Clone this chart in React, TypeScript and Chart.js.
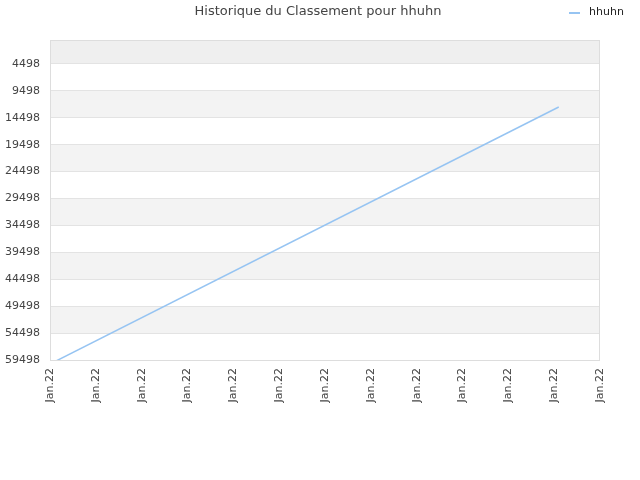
import React, { useEffect, useRef } from "react";
import { Chart, registerables } from "chart.js";

Chart.register(...registerables);

const chartTitle = "Historique du Classement pour hhuhn";
const seriesName = "hhuhn";
const xTickLabels = [
  "Jan.22", "Jan.22", "Jan.22", "Jan.22", "Jan.22", "Jan.22", "Jan.22",
  "Jan.22", "Jan.22", "Jan.22", "Jan.22", "Jan.22", "Jan.22",
];
const yTickValues = [4498, 9498, 14498, 19498, 24498, 29498, 34498, 39498, 44498, 49498, 54498, 59498];
const rankPositions = [0, 11.1];
const rankValues = [60250, 12490];

const FONT = "'DejaVu Sans', sans-serif";
const LINE_COLOR = "#96c4f2";

const bandsPlugin = {
  id: "bands",
  beforeDraw(chart: any) {
    const { ctx, chartArea } = chart;
    const y = chart.scales.y;
    ctx.save();
    ctx.fillStyle = "#ffffff";
    ctx.fillRect(0, 0, chart.width, chart.height);
    const edges = [y.min, ...yTickValues];
    for (let i = 0; i < edges.length - 1; i++) {
      if (i % 2 === 0) {
        const t = y.getPixelForValue(edges[i]);
        const b = y.getPixelForValue(edges[i + 1]);
        ctx.fillStyle = i === 0 ? "#efefef" : "#f3f3f3";
        ctx.fillRect(chartArea.left, t, chartArea.right - chartArea.left, b - t);
      }
    }
    ctx.restore();
  },
  afterDraw(chart: any) {
    const { ctx, chartArea } = chart;
    ctx.save();
    ctx.strokeStyle = "#dddddd";
    ctx.lineWidth = 1;
    ctx.strokeRect(chartArea.left + 0.5, chartArea.top + 0.5, chartArea.right - chartArea.left - 1, chartArea.bottom - chartArea.top);
    // title
    ctx.fillStyle = "#444444";
    ctx.font = `13px ${FONT}`;
    ctx.textAlign = "center";
    ctx.textBaseline = "middle";
    ctx.fillText(chartTitle, 318, 12);
    // legend
    ctx.strokeStyle = LINE_COLOR;
    ctx.lineWidth = 2;
    ctx.beginPath();
    ctx.moveTo(569, 13);
    ctx.lineTo(580, 13);
    ctx.stroke();
    ctx.fillStyle = "#222222";
    ctx.font = `11px ${FONT}`;
    ctx.textAlign = "left";
    ctx.fillText(seriesName, 589, 12);
    ctx.restore();
  },
};

export default function App() {
  const ref = useRef<HTMLCanvasElement | null>(null);
  useEffect(() => {
    if (!ref.current) return;
    const chart = new Chart(ref.current, {
      type: "line",
      data: {
        datasets: [
          {
            label: seriesName,
            data: rankPositions.map((x, i) => ({ x, y: rankValues[i] })),
            borderColor: LINE_COLOR,
            borderWidth: 1.5,
            pointRadius: 0,
            tension: 0,
            fill: false,
          },
        ],
      },
      options: {
        animation: false,
        responsive: false,
        devicePixelRatio: 1,
        layout: { padding: { left: 0, right: 40, top: 40, bottom: 0 } },
        plugins: { legend: { display: false }, title: { display: false }, tooltip: { enabled: false } },
        scales: {
          x: {
            type: "linear",
            min: 0,
            max: xTickLabels.length - 1,
            afterBuildTicks: (scale: any) => {
              scale.ticks = xTickLabels.map((_, i) => ({ value: i }));
            },
            afterFit: (scale: any) => {
              scale.height = 120;
            },
            grid: { display: false, drawTicks: false },
            border: { display: false },
            ticks: {
              autoSkip: false,
              minRotation: 90,
              maxRotation: 90,
              padding: 8,
              color: "#444444",
              font: { family: FONT, size: 11 },
              callback: (_v: any, i: number) => xTickLabels[i],
            },
          },
          y: {
            type: "linear",
            reverse: true,
            min: 40,
            max: 59498,
            afterBuildTicks: (scale: any) => {
              scale.ticks = yTickValues.map((v) => ({ value: v }));
            },
            afterFit: (scale: any) => {
              scale.width = 50;
            },
            grid: { color: "#e3e3e3", drawTicks: false, lineWidth: 1 },
            border: { display: false },
            ticks: {
              padding: 10,
              color: "#444444",
              font: { family: FONT, size: 11, lineHeight: 1.4 },
              callback: (v: any) => String(v),
            },
          },
        },
      },
      plugins: [bandsPlugin],
    } as any);
    return () => chart.destroy();
  }, []);
  return (
    <div style={{ position: "absolute", left: 0, top: 0, width: 640, height: 480 }}>
      <canvas ref={ref} width={640} height={480} style={{ width: 640, height: 480, display: "block" }} />
    </div>
  );
}
